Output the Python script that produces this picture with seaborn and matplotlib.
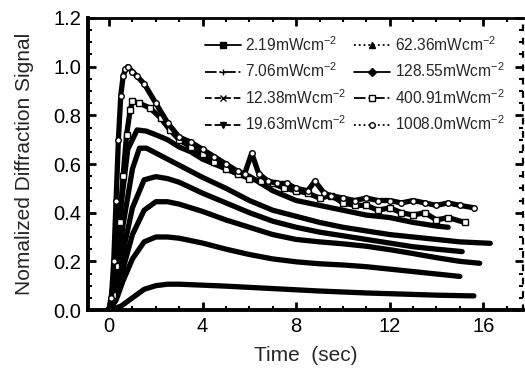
import matplotlib
matplotlib.use("Agg")
import matplotlib.pyplot as plt
from matplotlib.lines import Line2D
from matplotlib.ticker import MultipleLocator, FormatStrFormatter
import seaborn as sns
import pandas as pd

# ---------------- data ----------------
labels = ["2.19mWcm$^{-2}$", "7.06mWcm$^{-2}$", "12.38mWcm$^{-2}$", "19.63mWcm$^{-2}$",
          "62.36mWcm$^{-2}$", "128.55mWcm$^{-2}$", "400.91mWcm$^{-2}$", "1008.0mWcm$^{-2}$"]

t_219 = [0, 0.5, 1, 1.5, 2, 2.5, 3, 4, 5, 6, 7, 8, 9, 10, 11, 12, 13, 14, 15, 15.6]
s_219 = [0, 0.015, 0.05, 0.085, 0.10, 0.106, 0.106, 0.102, 0.098, 0.093, 0.088, 0.083,
         0.078, 0.074, 0.070, 0.067, 0.064, 0.061, 0.059, 0.058]

t_706 = [0, 0.3, 0.6, 1, 1.5, 2, 2.5, 3, 4, 5, 6, 7, 8, 9, 10, 11, 12, 13, 14, 15]
s_706 = [0, 0.04, 0.12, 0.21, 0.28, 0.30, 0.30, 0.295, 0.275, 0.25, 0.228, 0.21, 0.198,
         0.19, 0.185, 0.178, 0.168, 0.158, 0.148, 0.138]

t_1238 = [0, 0.3, 0.6, 1, 1.5, 2, 2.5, 3, 4, 5, 6, 7, 8, 9, 10, 11, 12, 13, 14, 15, 15.85]
s_1238 = [0, 0.06, 0.17, 0.31, 0.41, 0.445, 0.445, 0.435, 0.405, 0.37, 0.34, 0.31, 0.29,
          0.28, 0.272, 0.262, 0.248, 0.232, 0.215, 0.2, 0.192]

t_1963 = [0, 0.3, 0.6, 1, 1.5, 2, 2.5, 3, 4, 5, 6, 7, 8, 9, 10, 11, 12, 13, 14, 15.1]
s_1963 = [0, 0.08, 0.24, 0.42, 0.535, 0.548, 0.54, 0.525, 0.48, 0.44, 0.40, 0.365, 0.34,
          0.32, 0.305, 0.29, 0.275, 0.26, 0.25, 0.24]

t_6236 = [0, 0.3, 0.6, 1, 1.3, 1.6, 2, 2.5, 3, 4, 5, 6, 7, 8, 9, 10, 11, 12, 13, 14, 15, 16.3]
s_6236 = [0, 0.12, 0.35, 0.58, 0.665, 0.665, 0.645, 0.62, 0.595, 0.545, 0.50, 0.45, 0.41,
          0.385, 0.36, 0.34, 0.325, 0.31, 0.30, 0.29, 0.28, 0.274]

t_12855 = [0, 0.25, 0.5, 0.8, 1.2, 1.6, 2, 2.5, 3, 3.5, 4, 4.5, 5, 5.5, 6, 6.5, 7, 8, 9,
           10, 11, 12, 13, 14, 14.5]
s_12855 = [0, 0.15, 0.42, 0.66, 0.74, 0.735, 0.72, 0.70, 0.67, 0.65, 0.62, 0.60, 0.58, 0.56,
           0.55, 0.52, 0.49, 0.45, 0.43, 0.41, 0.39, 0.38, 0.36, 0.345, 0.34]

t_40091 = [0, 0.15, 0.3, 0.45, 0.6, 0.75, 0.9, 1.0, 1.3, 1.75, 2.2, 2.6, 3, 3.5, 4, 4.5, 5,
           5.5, 6, 6.5, 7, 7.5, 8, 8.5, 9, 9.5, 10, 10.5, 11, 11.5, 12, 12.5, 13, 13.5, 14,
           14.5, 15.2]
s_40091 = [0, 0.06, 0.18, 0.36, 0.55, 0.72, 0.82, 0.857, 0.85, 0.83, 0.79, 0.74, 0.70, 0.67,
           0.64, 0.61, 0.58, 0.56, 0.54, 0.53, 0.52, 0.50, 0.49, 0.48, 0.46, 0.47, 0.44, 0.43,
           0.43, 0.41, 0.42, 0.40, 0.39, 0.40, 0.37, 0.38, 0.36]

t_1008 = [0, 0.1, 0.2, 0.3, 0.4, 0.5, 0.6, 0.7, 0.8, 1.0, 1.2, 1.5, 2, 2.5, 3, 3.5, 4, 4.5,
          5, 5.5, 5.8, 6.1, 6.4, 6.8, 7.2, 7.6, 8, 8.5, 8.8, 9.2, 9.5, 10, 10.5, 11, 11.5,
          12, 12.5, 13, 13.5, 14, 14.5, 15, 15.6]
s_1008 = [0, 0.05, 0.2, 0.45, 0.7, 0.88, 0.96, 0.99, 1.0, 0.98, 0.96, 0.93, 0.85, 0.77, 0.71,
          0.69, 0.66, 0.63, 0.60, 0.57, 0.56, 0.645, 0.56, 0.53, 0.52, 0.52, 0.50, 0.49, 0.53,
          0.48, 0.47, 0.46, 0.45, 0.46, 0.45, 0.45, 0.44, 0.45, 0.44, 0.43, 0.44, 0.43, 0.42]

times = [t_219, t_706, t_1238, t_1963, t_6236, t_12855, t_40091, t_1008]
signals = [s_219, s_706, s_1238, s_1963, s_6236, s_12855, s_40091, s_1008]

# legend styles
styles = [("-", "s", "k"), ("-.", "+", "k"), ("--", "x", "k"), ("--", "v", "k"),
          (":", "^", "k"), ("-", "D", "k"), ("-.", "s", "w"), (":", "o", "w")]

# ---------------- plot ----------------
sns.set_style("ticks")
plt.rcParams["font.family"] = ["Liberation Sans", "DejaVu Sans"]
plt.rcParams["mathtext.fontset"] = "custom"
plt.rcParams["mathtext.rm"] = "Liberation Sans"
plt.rcParams["mathtext.default"] = "regular"

fig = plt.figure(figsize=(5.25, 3.72), dpi=100)
ax = fig.add_axes([88 / 525, 1 - 310 / 372, (523 - 88) / 525, (310 - 18) / 372])

for lab, t, s, (ls, mk, fc) in zip(labels, times, signals, styles):
    df = pd.DataFrame({"t": t, "s": s})
    sns.lineplot(data=df, x="t", y="s", ax=ax, color="black", lw=3.8, sort=False,
                 estimator=None, legend=False,
                 marker=mk if fc == "w" else None, markersize=4,
                 markerfacecolor="white", markeredgecolor="black", markeredgewidth=1.0)

ax.set_xlim(-0.9, 17.7)
ax.set_ylim(0, 1.2)
ax.xaxis.set_major_locator(MultipleLocator(4))
ax.xaxis.set_minor_locator(MultipleLocator(1))
ax.yaxis.set_major_locator(MultipleLocator(0.2))
ax.yaxis.set_minor_locator(MultipleLocator(0.05))
ax.yaxis.set_major_formatter(FormatStrFormatter("%.1f"))

ax.tick_params(which="both", direction="in", top=True, right=True, colors="black",
               labelsize=14.5)
ax.tick_params(which="major", length=6, width=2, pad=5)
ax.tick_params(which="minor", length=3, width=1.5)

for side in ["left", "bottom"]:
    ax.spines[side].set_linewidth(2.8)
ax.spines["top"].set_linewidth(2.0)
ax.spines["right"].set_linewidth(1.6)
ax.spines["right"].set_linestyle((0, (2, 4)))
for sp in ax.spines.values():
    sp.set_color("black")

ax.set_xlabel("Time  (sec)", fontsize=15, labelpad=7)
ax.set_ylabel("Nomalized Diffraction Signal", fontsize=15, labelpad=14)

handles = [Line2D([0], [0], color="black", lw=1.3, ls=ls, marker=mk, markersize=4,
                  markerfacecolor=("black" if fc == "k" else "white"),
                  markeredgecolor="black")
           for ls, mk, fc in styles]
leg = ax.legend(handles, labels, ncol=2, frameon=False, fontsize=11.2,
                loc="upper left", bbox_to_anchor=(205 / 525, 1 - 35 / 372),
                bbox_transform=fig.transFigure, borderpad=0, borderaxespad=0,
                handlelength=2.3, handletextpad=0.3, columnspacing=0.5,
                labelspacing=0.5)

fig.savefig("out.png", dpi=100)
